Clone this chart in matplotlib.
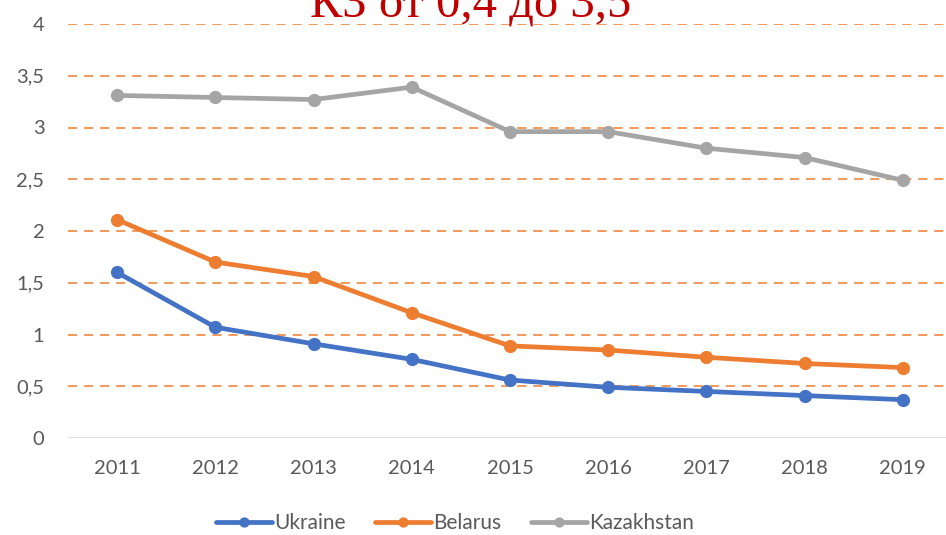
import matplotlib
matplotlib.use("Agg")
import matplotlib.pyplot as plt
import numpy as np

years = ["2011", "2012", "2013", "2014", "2015", "2016", "2017", "2018", "2019"]
ukraine = [1.60, 1.07, 0.91, 0.76, 0.56, 0.49, 0.45, 0.41, 0.37]
belarus = [2.11, 1.70, 1.56, 1.21, 0.89, 0.85, 0.78, 0.72, 0.68]
kazakhstan = [3.31, 3.29, 3.27, 3.39, 2.96, 2.96, 2.80, 2.71, 2.49]
yticks = [0, 0.5, 1, 1.5, 2, 2.5, 3, 3.5, 4]
title = "КЗ от 0,4 до 3,5"

plt.rcParams['font.family'] = ['Lato', 'DejaVu Sans']

fig = plt.figure(figsize=(9.46, 5.35), dpi=100)
ax = fig.add_axes([68/946, 1-438/535, 1-68/946, (438-24)/535])

x = np.arange(len(years))
for vals, col, name in [(ukraine, '#4472C4', 'Ukraine'),
                        (belarus, '#ED7D31', 'Belarus'),
                        (kazakhstan, '#A5A5A5', 'Kazakhstan')]:
    ax.plot(x, vals, color=col, lw=3.4, marker='o', ms=8.5, label=name,
            solid_capstyle='round', zorder=3)

ax.set_xlim(-0.5, 8.44)
ax.set_ylim(0, 4)
ax.set_yticks(yticks)
ax.set_yticklabels([str(v).replace('.', ',').replace(',0', '') if v != 0 else '0' for v in yticks])
ax.set_xticks(x)
ax.set_xticklabels(years)
ax.tick_params(length=0, labelsize=14.5, colors='#595959')
ax.tick_params(axis='y', pad=17)
ax.tick_params(axis='x', pad=16)

for v in yticks[1:]:
    ax.axhline(v, color='#ED7D31', lw=1.1, ls=(0, (6, 4.5)), zorder=1)
ax.axhline(0, color='#D9D9D9', lw=1.2, zorder=1)

for s in ax.spines.values():
    s.set_visible(False)

fig.text(0.497, 1-17/535, title, color='#C00000', fontsize=35,
         family='Liberation Serif', ha='center', va='baseline')

leg = fig.legend(loc='center', bbox_to_anchor=(455/946, 1-523/535), ncol=3,
                 frameon=False, fontsize=15, handlelength=2.7,
                 columnspacing=1.4, handletextpad=0.1, markerscale=0.75)
for t in leg.get_texts():
    t.set_color('#595959')

fig.savefig('out.png', dpi=100)
